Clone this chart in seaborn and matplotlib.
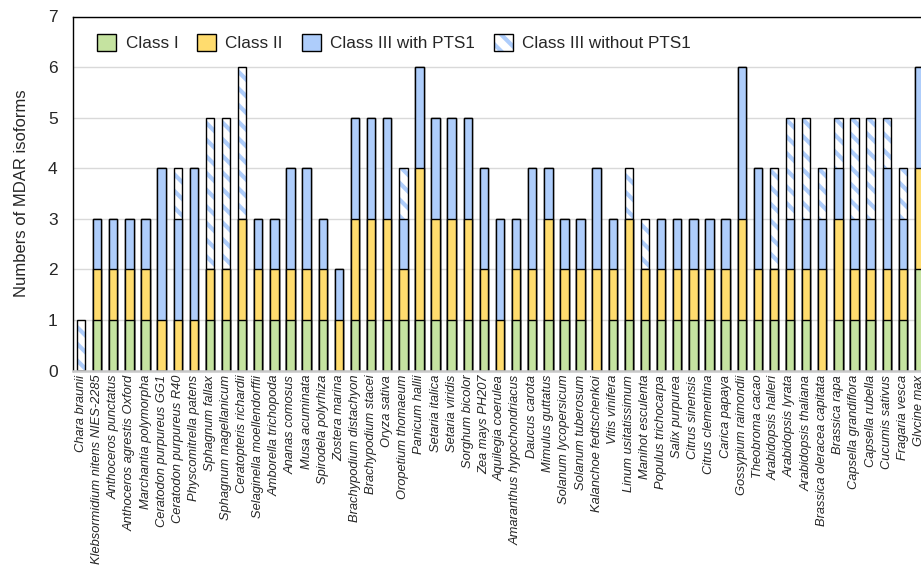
import matplotlib
matplotlib.use("Agg")
import matplotlib.pyplot as plt
from matplotlib.patches import Patch
import numpy as np
import pandas as pd
import seaborn as sns

species = [
    "Chara braunii", "Klebsormidium nitens NIES-2285", "Anthoceros punctatus",
    "Anthoceros agrestis Oxford", "Marchantia polymorpha", "Ceratodon purpureus GG1",
    "Ceratodon purpureus R40", "Physcomitrella patens", "Sphagnum fallax",
    "Sphagnum magellanicum", "Ceratopteris richardii", "Selaginella moellendorffii",
    "Amborella trichopoda", "Ananas comosus", "Musa acuminata", "Spirodela polyrhiza",
    "Zostera marina", "Brachypodium distachyon", "Brachypodium stacei", "Oryza sativa",
    "Oropetium thomaeum", "Panicum hallii", "Setaria italica", "Setaria viridis",
    "Sorghum bicolor", "Zea mays PH207", "Aquilegia coerulea",
    "Amaranthus hypochondriacus", "Daucus carota", "Mimulus guttatus",
    "Solanum lycopersicum", "Solanum tuberosum", "Kalanchoe fedtschenkoi",
    "Vitis vinifera", "Linum usitatissimum", "Manihot esculenta",
    "Populus trichocarpa", "Salix purpurea", "Citrus sinensis", "Citrus clementina",
    "Carica papaya", "Gossypium raimondii", "Theobroma cacao", "Arabidopsis halleri",
    "Arabidopsis lyrata", "Arabidopsis thaliana", "Brassica oleracea capitata",
    "Brassica rapa", "Capsella grandiflora", "Capsella rubella", "Cucumis sativus",
    "Fragaria vesca", "Glycine max",
]

class_i = [0, 1, 1, 1, 1, 0, 0, 0, 1, 1, 1, 1, 1, 1, 1, 1, 0, 1, 1, 1,
           1, 1, 1, 1, 1, 1, 0, 1, 1, 1, 1, 1, 0, 1, 1, 1, 1, 1, 1, 1,
           1, 1, 1, 1, 1, 1, 0, 1, 1, 1, 1, 1, 2]
class_ii = [0, 1, 1, 1, 1, 1, 1, 1, 1, 1, 2, 1, 1, 1, 1, 1, 1, 2, 2, 2,
            1, 3, 2, 2, 2, 1, 1, 1, 1, 2, 1, 1, 2, 1, 2, 1, 1, 1, 1, 1,
            1, 2, 1, 1, 1, 1, 2, 2, 1, 1, 1, 1, 2]
class_iii_pts1 = [0, 1, 1, 1, 1, 3, 2, 3, 0, 0, 0, 1, 1, 2, 2, 1, 1, 2, 2, 2,
                  1, 2, 2, 2, 2, 2, 2, 1, 2, 1, 1, 1, 2, 1, 0, 0, 1, 1, 1, 1,
                  1, 3, 2, 0, 1, 1, 1, 1, 1, 1, 2, 1, 2]
class_iii_no_pts1 = [1, 0, 0, 0, 0, 0, 1, 0, 3, 3, 3, 0, 0, 0, 0, 0, 0, 0, 0, 0,
                     1, 0, 0, 0, 0, 0, 0, 0, 0, 0, 0, 0, 0, 0, 1, 1, 0, 0, 0, 0,
                     0, 0, 0, 2, 2, 2, 1, 1, 2, 2, 1, 1, 0]

legend_labels = ["Class I", "Class II", "Class III with PTS1", "Class III without PTS1"]

GREEN = "#C5E3A0"
YELLOW = "#FFDC6E"
BLUE = "#AECDFB"
HATCH = "\\\\"

sns.set_style("white")
plt.rcParams["font.family"] = ["Liberation Sans", "DejaVu Sans"]
plt.rcParams["hatch.linewidth"] = 3.0

df = pd.DataFrame({
    "species": species,
    "I": class_i,
    "II": class_ii,
    "III": class_iii_pts1,
    "IIIn": class_iii_no_pts1,
})
df["c1"] = df["I"]
df["c2"] = df["c1"] + df["II"]
df["c3"] = df["c2"] + df["III"]
df["c4"] = df["c3"] + df["IIIn"]

fig = plt.figure(figsize=(9.21, 5.72), dpi=100)
ax = fig.add_axes([73 / 921, (572 - 370.6) / 572, (927 - 73) / 921, (370.6 - 16.5) / 572])

bw = 0.52
common = dict(data=df, x="species", order=species, ax=ax, width=bw,
              errorbar=None, saturation=1)

# top segment: hatched, then black outline
sns.barplot(y="c4", color="white", edgecolor=BLUE, linewidth=0,
            hatch=HATCH, **common)
sns.barplot(y="c4", fill=False, edgecolor="black", linewidth=1.0, **common)
# lower segments painted over the stack
sns.barplot(y="c3", color=BLUE, edgecolor="black", linewidth=1.0, **common)
sns.barplot(y="c2", color=YELLOW, edgecolor="black", linewidth=1.0, **common)
sns.barplot(y="c1", color=GREEN, edgecolor="black", linewidth=1.0, **common)

ax.set_xlim(-0.5, len(species) - 0.5)
ax.set_ylim(0, 7)
ax.set_yticks(range(0, 8))
ax.yaxis.grid(True, color="#D9D9D9", linewidth=1.0)
ax.set_axisbelow(True)

ax.set_xlabel("")
ax.set_ylabel("Numbers of MDAR isoforms", fontsize=12, labelpad=14)
ax.tick_params(axis="y", length=0, pad=11, labelsize=12.5)
ax.tick_params(axis="x", length=0, pad=3)
ax.set_xticks(range(len(species)))
ax.set_xticklabels(species, rotation=90, fontsize=9.3, fontstyle="italic")

for side in ["left", "top"]:
    ax.spines[side].set_color("black")
    ax.spines[side].set_linewidth(1.0)
ax.spines["right"].set_visible(False)
ax.spines["bottom"].set_color("#C8C8C8")
ax.spines["bottom"].set_linewidth(1.8)

handles = [
    Patch(facecolor=GREEN, edgecolor="black", linewidth=1.0),
    Patch(facecolor=YELLOW, edgecolor="black", linewidth=1.0),
    Patch(facecolor=BLUE, edgecolor="black", linewidth=1.0),
    (Patch(facecolor="white", edgecolor=BLUE, linewidth=0, hatch=HATCH),
     Patch(facecolor="none", edgecolor="black", linewidth=1.0)),
]
fig.legend(handles, legend_labels, loc="upper left",
           bbox_to_anchor=(97 / 921, 1 - 34 / 572), ncol=4, frameon=False,
           fontsize=12.3, handlelength=1.12, handleheight=1.12,
           handletextpad=0.55, columnspacing=1.1, borderpad=0,
           borderaxespad=0)

fig.savefig("out.png", dpi=100)
